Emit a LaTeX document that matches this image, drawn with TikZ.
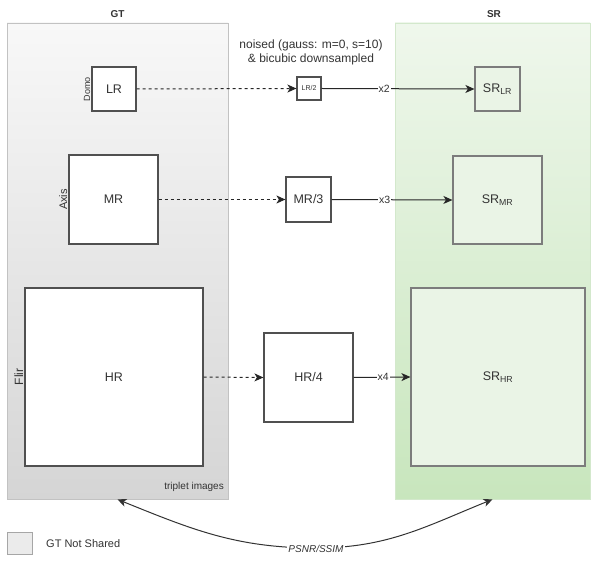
\documentclass[tikz,border=0pt]{standalone}
\usepackage{fontspec}
\setmainfont{Liberation Sans}
\usetikzlibrary{arrows.meta}
\definecolor{gttop}{HTML}{F8F8F8}
\definecolor{gtbot}{HTML}{D5D5D5}
\definecolor{gtline}{HTML}{C2C2C2}
\definecolor{srtop}{HTML}{EFF7EC}
\definecolor{srbot}{HTML}{C8E6BD}
\definecolor{srline}{HTML}{D3E8CC}
\definecolor{srin}{HTML}{EAF4E6}
\definecolor{boxline}{HTML}{505050}
\definecolor{txt}{HTML}{333333}
\definecolor{legfill}{HTML}{EBEBEB}
\begin{document}
\begin{tikzpicture}[x=1pt,y=1pt,
  fs/.style={font=\fontsize{#1}{#1}\selectfont},
  grp/.style={inner sep=0pt, draw=#1, line width=0.8pt},
  box/.style={draw=boxline, line width=1.2pt, fill=white, inner sep=0pt, text=txt, fs=12.5},
  srbox/.style={box, fill=srin, draw=boxline!75},
  tip/.style={},
  conn/.style={draw=black!85, line width=1pt, -{Stealth[length=9pt,width=8pt,inset=2.5pt]}},
  dconn/.style={conn, dash pattern=on 3pt off 3pt},
  lab/.style={fill=white, inner sep=1pt, text=txt, fs=10.5},
  side/.style={rotate=90, anchor=south, inner sep=1pt, text=txt}]
\useasboundingbox (0,0) rectangle (592,-561);
% groups
\node[grp=gtline, top color=gttop, bottom color=gtbot, minimum width=221pt, minimum height=476pt] (GT) at (117.5,-261) {};
\node[grp=srline, top color=srtop, bottom color=srbot, minimum width=195pt, minimum height=476pt] (SR) at (492.5,-261) {};
\node[anchor=south, inner sep=0pt, text=txt, fs=12.5, font=\bfseries] (gtt) at (117.5,-18) {GT};
\node[anchor=south, inner sep=0pt, text=txt, fs=12.5, font=\bfseries] (srt) at (494,-18) {SR};
\node[anchor=south east, inner sep=0pt, text=txt, fs=10] (trip) at (224,-492) {triplet images};
% GT boxes
\node[box, minimum width=44pt, minimum height=44pt] (LR) at (114,-89) {LR};
\node[box, minimum width=89pt, minimum height=89pt] (MR) at (113.5,-199.5) {MR};
\node[box, minimum width=178pt, minimum height=178pt] (HR) at (114,-377) {HR};
\node[side, fs=9] (domo) at (LR.west) {Domo};
\node[side, fs=11] (axis) at (MR.west) {Axis};
\node[side, fs=12] (flir) at (HR.west) {Flir};
% downsampled
\node[box, minimum width=24pt, minimum height=23pt, fs=7] (LR2) at (309,-88.5) {LR/2};
\node[box, minimum width=45pt, minimum height=45pt] (MR3) at (308.5,-199.5) {MR/3};
\node[box, minimum width=89pt, minimum height=89pt] (HR4) at (308.5,-377.5) {HR/4};
% SR boxes
\node[srbox, minimum width=45pt, minimum height=44pt] (SRLR) at (497.5,-89) {SR\textsubscript{LR}};
\node[srbox, minimum width=89pt, minimum height=88pt] (SRMR) at (497.5,-200) {SR\textsubscript{MR}};
\node[srbox, minimum width=174pt, minimum height=178pt] (SRHR) at (498,-377) {SR\textsubscript{HR}};
% text
\node[align=center, text=txt, fs=12, inner sep=0pt] (noise) at (311,-52.5) {noised (gauss: m=0, s=10)\\[2pt]\& bicubic downsampled};
% connectors
\draw[dconn] (LR.east) -- (LR2.west);
\draw[dconn] (MR.east) -- (MR3.west);
\draw[dconn] (HR.east) -- (HR4.west);
\draw[conn] (LR2.east) -- node[lab, pos=0.41] {x2} (SRLR.west);
\draw[conn] (MR3.east) -- node[lab, pos=0.44] {x3} (SRMR.west);
\draw[conn] (HR4.east) -- node[lab, pos=0.52] {x4} (SRHR.west);
% metric
\coordinate (mid) at (316,-548);
\draw[draw=black!80, line width=1pt, {Stealth[length=9pt,width=8pt,inset=2.5pt]}-{Stealth[length=9pt,width=8pt,inset=2.5pt]}]
  (GT.south) to[out=-22,in=180] (mid) to[out=0,in=-158] (SR.south);
\node[fill=white, inner sep=1pt, text=txt, fs=12.5, font=\itshape] (psnr) at (316,-549) {PSNR/SSIM};
% legend
\node[draw=gray!70, fill=legfill, line width=0.8pt, minimum width=25pt, minimum height=22pt, inner sep=0pt] (leg) at (19.5,-543) {};
\node[anchor=west, text=txt, fs=11, inner sep=0pt] (legt) at (46,-543.5) {GT Not Shared};
\end{tikzpicture}
\end{document}
